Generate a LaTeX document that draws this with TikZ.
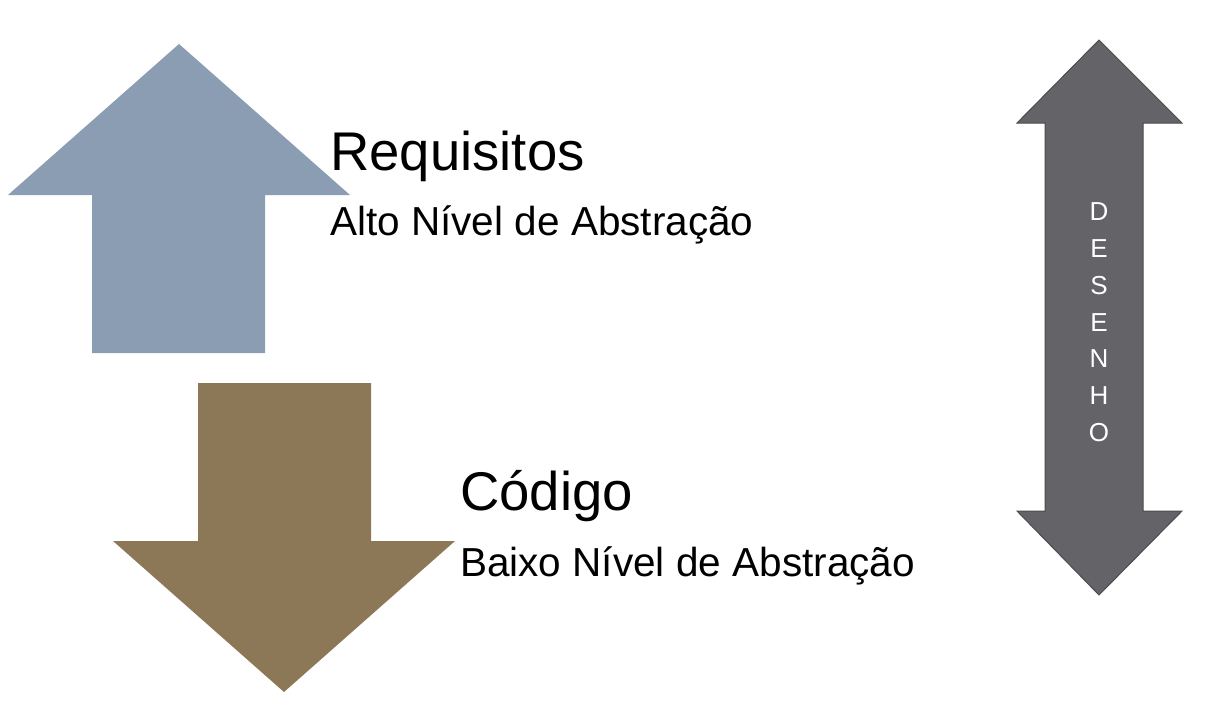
\documentclass[tikz,border=0pt]{standalone}
\usepackage{fontspec}
\setmainfont{Liberation Sans}
\begin{document}
\begin{tikzpicture}[x=1pt,y=-1pt,
  big/.style={anchor=base west,font=\fontsize{54.5}{60}\selectfont,inner sep=0},
  small/.style={anchor=base west,font=\fontsize{40.5}{46}\selectfont,inner sep=0},
  let/.style={text=white,font=\fontsize{26}{30}\selectfont,inner sep=0}]
\useasboundingbox (0,0) rectangle (1207,712);
\definecolor{upc}{HTML}{8B9DB2}
\definecolor{downc}{HTML}{8C7856}
\definecolor{dbl}{HTML}{646368}
\fill[upc] (179,44) -- (350,195) -- (265,195) -- (265,353) -- (92,353) -- (92,195) -- (8,195) -- cycle;
\fill[downc] (284,692) -- (455,541) -- (371,541) -- (371,383) -- (198,383) -- (198,541) -- (113,541) -- cycle;
\draw[fill=dbl,draw=black!70,line width=1pt] (1099,40) -- (1182,123) -- (1143,123) -- (1143,511) -- (1182,511) -- (1099,595) -- (1017,511) -- (1045,511) -- (1045,123) -- (1017,123) -- cycle;
\node[big] (req) at (330,170) {Requisitos};
\node[small] (alto) at (330,235) {Alto Nível de Abstração};
\node[big] (cod) at (460,510) {Código};
\node[small] (baixo) at (460,576) {Baixo Nível de Abstração};
\foreach \l [count=\i] in {D,E,S,E,N,H,O}
  \node[let] (l\i) at (1099,{212+(\i-1)*36.7}) {\l};
\end{tikzpicture}
\end{document}
